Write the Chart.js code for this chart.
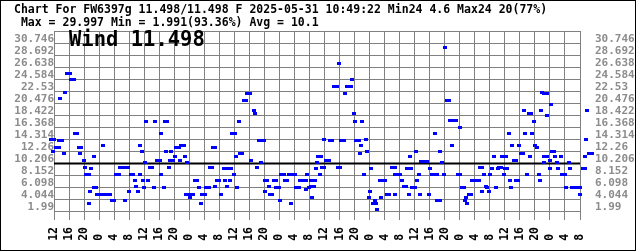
<!DOCTYPE html>
<html><head><meta charset="utf-8">
<script src="https://cdn.jsdelivr.net/npm/chart.js@4.4.1/dist/chart.umd.min.js"></script>
<style>html,body{margin:0;padding:0;background:#fff}canvas{display:block}</style>
</head><body>
<canvas id="c" width="636" height="251"></canvas>
<script>
const titleLines = [
  'Chart For FW6397g 11.498/11.498 F 2025-05-31 10:49:22 Min24 4.6 Max24 20(77%)',
  ' Max = 29.997 Min = 1.991(93.36%) Avg = 10.1'
];
const bigLabel = 'Wind 11.498';
const avgValue = 10.1;
const yTickLabels = ['1.99','4.044','6.098','8.152','10.206','12.26','14.314','16.368','18.422','20.476','22.53','24.584','26.638','28.692','30.746'];
const xTickHourLabels = ['12','16','20','0','4','8'];
const xTickStepHours = 4;
const xTickCount = 36;

// hours since the first tick (12:00), and wind speed readings
const hours = [
  -0.93,0.13,1.33,2.13,-0.19,0.53,1.2,2.59,1.68,3.01,
  3.33,4.13,4.4,5.2,5.47,6.0,6.53,7.2,7.01,7.92,
  8.35,8.53,9.2,9.95,10.75,10.53,11.07,9.68,9.41,11.33,
  12.27,13.2,14.13,14.93,13.15,15.33,16.0,16.53,17.2,17.6,
  18.67,19.6,19.01,20.08,20.53,21.07,21.6,21.95,22.48,22.85,
  23.01,23.39,24.08,23.81,24.35,24.61,25.15,25.47,26.0,26.53,
  27.01,27.33,28.13,28.53,28.35,29.47,30.13,29.15,29.68,30.48,
  31.01,30.8,31.73,32.08,32.53,33.2,33.52,33.87,34.53,34.75,
  35.01,35.39,35.2,36.13,37.07,36.08,37.47,38.13,38.59,39.12,
  39.33,40.13,40.4,41.2,41.47,42.13,42.4,42.93,42.93,43.33,
  44.0,44.53,45.33,46.27,47.2,45.41,45.95,46.75,47.33,48.13,
  47.81,48.35,48.61,49.15,49.47,50.13,50.53,51.2,51.33,52.13,
  52.53,53.15,53.6,53.95,54.53,55.2,55.87,55.01,56.08,56.13,
  56.8,57.15,57.47,58.0,58.53,59.2,59.2,60.0,60.08,60.53,
  61.2,61.47,62.13,62.53,63.47,64.27,63.01,64.4,65.2,65.47,
  66.27,67.07,67.01,67.28,67.81,68.35,68.61,68.35,69.15,69.41,
  69.68,69.95,70.27,71.07,70.75,71.2,71.87,71.85,72.4,73.2,
  73.47,74.0,74.53,75.2,75.47,76.13,75.81,76.4,77.2,77.52,
  78.0,78.93,79.28,79.81,80.08,80.4,81.2,81.68,81.95,81.41,
  82.53,83.01,83.28,84.08,84.35,83.81,85.41,84.8,85.6,85.95,
  87.01,86.67,87.47,88.13,88.53,89.2,90.0,90.8,90.75,90.67,
  91.47,92.13,92.53,93.07,93.73,93.95,94.48,94.75,95.01,95.33,
  96.13,96.35,96.61,97.15,97.41,97.73,98.53,99.2,99.81,100.08,
  100.53,101.33,102.0,101.41,101.87,102.8,102.75,103.28,103.81,104.08,
  104.53,105.2,105.95,105.47,106.27,106.93,107.47,108.13,108.08,108.53,
  109.2,110.4,111.07,109.6,109.33,109.95,111.33,112.27,113.07,113.33,
  114.0,113.95,114.53,115.01,115.28,115.81,116.08,116.53,117.15,117.6,
  118.05,118.53,119.07,119.28,119.81,120.35,120.13,120.67,121.15,121.41,
  121.68,121.95,122.53,123.07,122.93,123.6,123.81,124.27,124.93,125.15,
  125.41,125.79,126.53,127.07,126.75,127.28,127.81,128.08,128.53,129.15,
  129.41,129.68,129.95,130.53,131.2,130.48,130.53,131.33,131.28,131.92,
  132.08,132.35,132.53,133.07,133.41,133.79,134.21,134.93,135.33,136.0,
  136.4,137.15,137.41,137.87,138.93,140.0,140.08,140.67,141.33,141.41,
  142.4,143.07,141.68,141.95
];
const windSpeed = [
  14.3,14.3,14.1,14.1,12.2,12.9,12.9,11.9,21.2,22.3,
  25.6,25.6,24.5,24.5,15.3,15.3,12.9,12.9,11.9,10.7,
  9.5,8.3,8.3,9.3,11.4,6.0,6.0,5.4,3.3,4.9,
  4.9,4.9,4.9,4.9,13.2,3.8,3.8,8.3,8.3,9.5,
  9.5,9.5,3.8,5.4,8.3,8.3,7.2,6.2,5.4,8.3,
  13.2,12.2,6.0,7.2,10.3,17.3,7.2,9.5,9.5,6.0,
  17.3,10.7,10.7,15.3,8.3,17.3,17.3,6.0,12.2,9.5,
  12.2,10.7,10.7,11.4,12.9,12.9,10.7,13.2,13.2,11.4,
  4.9,10.3,4.9,4.9,4.9,4.3,7.2,7.2,6.0,3.3,
  4.9,4.9,6.0,6.0,9.5,9.5,12.9,12.9,6.2,7.2,
  7.2,4.9,9.3,9.3,9.3,7.2,6.2,7.2,15.3,15.3,
  8.3,11.4,6.0,17.3,11.9,11.9,20.9,20.9,22.1,22.1,
  10.7,19.2,18.7,9.5,14.1,14.1,14.1,10.3,5.4,7.2,
  7.2,6.2,4.9,4.9,7.2,7.2,6.0,6.0,3.8,8.3,
  8.3,7.2,7.2,8.3,8.3,8.3,3.3,6.0,6.0,7.2,
  7.2,7.2,5.7,8.3,6.0,6.2,4.3,7.2,6.2,7.2,
  9.3,10.3,11.4,11.4,8.3,9.5,9.5,14.2,10.7,10.7,
  14.1,14.1,23.3,23.3,9.5,9.5,27.3,14.1,14.1,22.1,
  23.3,23.3,24.5,18.7,17.3,14.1,14.1,13.2,17.3,11.9,
  8.3,14.3,12.2,5.4,9.3,4.3,3.8,3.3,3.3,2.2,
  4.3,7.2,7.2,7.2,4.9,4.9,9.5,9.5,4.9,8.3,
  8.3,8.3,7.2,6.2,6.2,9.3,4.9,11.4,9.3,6.0,
  6.0,12.2,7.2,8.3,4.9,10.5,10.5,10.5,4.9,9.3,
  8.3,8.3,8.3,15.3,3.8,3.8,12.2,10.3,8.3,30.0,
  20.9,20.9,13.2,17.5,17.5,17.5,8.3,8.3,16.3,6.0,
  6.0,4.9,4.9,4.3,3.8,3.3,7.2,7.2,7.2,9.5,
  9.5,5.4,8.3,6.2,6.0,5.4,8.3,9.3,11.4,6.0,
  9.3,9.5,9.5,11.4,8.3,11.4,9.3,9.3,15.3,7.2,
  6.0,13.2,10.7,10.7,7.2,7.2,13.2,11.9,11.9,19.2,
  15.3,8.3,18.7,18.7,11.4,15.3,17.3,13.2,12.9,8.3,
  7.2,19.2,22.3,22.1,22.1,10.3,11.4,11.4,18.4,10.7,
  9.3,20.3,12.2,12.2,11.4,10.3,9.3,11.4,8.3,8.3,
  6.0,10.3,9.3,6.0,6.0,6.0,4.9,9.3,9.3,11.4,
  11.9,11.9,14.2,19.2
];

const MONO = "'DejaVu Sans Mono', 'Liberation Mono', monospace";
const yTickValues = yTickLabels.map(Number);
const yMin = 0.45, yMax = 32.8;
const xMax = (xTickCount - 1) * xTickStepHours;

const dot = document.createElement('canvas');
dot.width = 4; dot.height = 3;
const dctx = dot.getContext('2d');
dctx.fillStyle = '#0000ff';
dctx.fillRect(0, 0, 4, 3);

const framePlugin = {
  id: 'frame',
  beforeDraw(chart) {
    const c = chart.ctx;
    c.save(); c.fillStyle = '#fff'; c.fillRect(0, 0, chart.width, chart.height); c.restore();
  },
  beforeDatasetsDraw(chart) {
    const c = chart.ctx, a = chart.chartArea;
    c.save();
    c.fillStyle = '#000';
    c.font = "bold 20.5px " + MONO;
    c.textBaseline = 'alphabetic';
    c.textAlign = 'left';
    c.fillText(bigLabel, a.left + 15, a.top + 15);
    c.restore();
    chart._savedArea = chart.chartArea;
    chart.chartArea = {left: 0, top: 0, right: chart.width, bottom: chart.height, width: chart.width, height: chart.height};
    c.imageSmoothingEnabled = false;
  },
  afterDatasetsDraw(chart) {
    chart.chartArea = chart._savedArea;
    chart.ctx.imageSmoothingEnabled = true;
  },
  afterDraw(chart) {
    const c = chart.ctx;
    c.save(); c.strokeStyle = '#000'; c.lineWidth = 1;
    c.strokeRect(0.5, 0.5, chart.width - 1, chart.height - 1);
    c.restore();
  }
};

function setYTicks(scale, withTop) {
  const t = yTickValues.map(v => ({value: v}));
  if (withTop) t.push({value: yMax});
  scale.ticks = t;
}

new Chart(document.getElementById('c'), {
  type: 'scatter',
  data: {
    datasets: [
      {
        type: 'line',
        data: [{x: 0, y: avgValue}, {x: xMax, y: avgValue}],
        borderColor: '#000', borderWidth: 2, pointRadius: 0, order: 2, clip: false
      },
      {
        data: hours.map((h, i) => ({x: h, y: windSpeed[i]})),
        pointStyle: dot, pointRadius: 2, backgroundColor: '#0000ff',
        borderWidth: 0, clip: false, order: 1
      }
    ]
  },
  options: {
    responsive: false, animation: false, devicePixelRatio: 1,
    events: [],
    layout: {padding: {left: 14, right: 0, top: 0, bottom: 0}},
    plugins: {
      legend: {display: false},
      tooltip: {enabled: false},
      title: {
        display: true, text: titleLines, align: 'start', color: '#000',
        font: {family: MONO, size: 11.5, weight: 'bold', lineHeight: '12.5px'},
        padding: {top: 4, bottom: 2}
      }
    },
    scales: {
      x: {
        type: 'linear', min: 0, max: xMax,
        afterBuildTicks(s) {
          s.ticks = Array.from({length: xTickCount}, (_, i) => ({value: i * xTickStepHours}));
        },
        afterFit(s) { s.height = 31; },
        grid: {color: '#808080', lineWidth: 1, drawTicks: false},
        border: {display: false},
        ticks: {
          autoSkip: false, maxRotation: 90, minRotation: 90, padding: 7, color: '#000',
          font: {family: MONO, size: 11.5, weight: 'bold'},
          callback: (v, i) => xTickHourLabels[i % xTickHourLabels.length].padEnd(2, ' ')
        }
      },
      y: {
        position: 'left', min: yMin, max: yMax,
        afterBuildTicks(s) { setYTicks(s, true); },
        afterFit(s) { s.width = 40; },
        grid: {color: '#808080', lineWidth: 1, drawTicks: false},
        border: {display: false},
        ticks: {
          autoSkip: false, padding: 0, labelOffset: -4, color: '#8c8c8c',
          font: {family: MONO, size: 11, weight: 'bold'},
          callback: (v, i) => (i < yTickLabels.length ? yTickLabels[i] : '')
        }
      },
      y2: {
        position: 'right', min: yMin, max: yMax,
        afterBuildTicks(s) { setYTicks(s, false); },
        afterFit(s) { s.width = 56; },
        grid: {display: false, drawTicks: false},
        border: {display: false},
        ticks: {
          autoSkip: false, padding: 15, labelOffset: -4, color: '#8c8c8c',
          font: {family: MONO, size: 11, weight: 'bold'},
          callback: (v, i) => yTickLabels[i]
        }
      }
    }
  },
  plugins: [framePlugin]
});
</script>
</body></html>
